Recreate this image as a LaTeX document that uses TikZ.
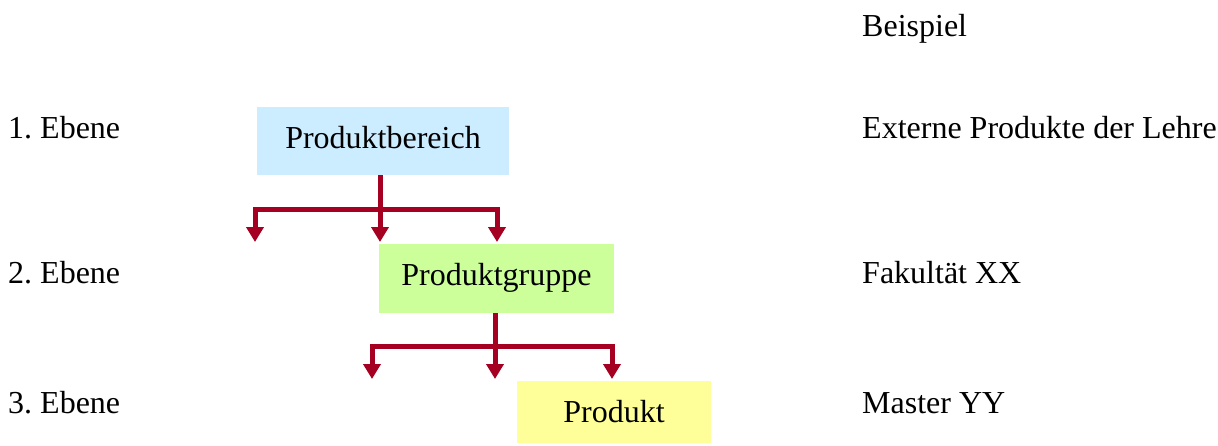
\documentclass[tikz,border=0pt]{standalone}
\usepackage{fontspec}
\setmainfont{Liberation Serif}
\usetikzlibrary{arrows.meta}
\definecolor{linkred}{RGB}{165,0,33}
\definecolor{boxblue}{RGB}{204,236,255}
\definecolor{boxgreen}{RGB}{204,255,153}
\definecolor{boxyellow}{RGB}{255,255,153}
\tikzset{
  levelbox/.style={inner sep=0pt, text height=21pt, text depth=7pt},
  label/.style={anchor=base west, inner sep=0pt},
  link/.style={draw=linkred, line width=5pt, line join=miter},
  linkarrow/.style={link, -{Triangle[width=17pt,length=15pt]}}
}
\frenchspacing
\begin{document}
\begin{tikzpicture}[x=1pt, y=-1pt, font=\fontsize{32}{38}\selectfont]
  \useasboundingbox (0,0) rectangle (1218,445);

  % hierarchy boxes
  \node[levelbox, fill=boxblue, minimum width=252pt, minimum height=68pt] (b1) at (383,141) {Produktbereich};
  \node[levelbox, fill=boxgreen, minimum width=235pt, minimum height=69pt] (b2) at (496.5,278.5) {Produktgruppe};
  \node[levelbox, fill=boxyellow, minimum width=194pt, minimum height=62pt, text depth=1pt] (b3) at (614,412) {Produkt};

  % level captions on the left
  \node[label] (l1) at (8,138) {1. Ebene};
  \node[label] (l2) at (8,283) {2. Ebene};
  \node[label] (l3) at (8,413) {3. Ebene};

  % examples on the right
  \node[label] (bsp) at (862,36) {Beispiel};
  \node[label] (e1) at (862,138) {Externe Produkte der Lehre};
  \node[label] (e2) at (862,283) {Fakultät XX};
  \node[label] (e3) at (862,413) {Master YY};

  % branching from the first level
  \coordinate (j1) at (380,209);
  \coordinate (t1a) at (255,242);
  \coordinate (t1b) at (380,242);
  \coordinate (t1c) at (497,242);
  \draw[link] (b1.south -| j1) -- (j1);
  \draw[linkarrow] (j1) -| (t1a);
  \draw[linkarrow] (j1) -| (t1c);
  \draw[linkarrow] (j1) -- (t1b);

  % branching from the second level
  \coordinate (j2) at (495,346);
  \coordinate (t2a) at (372,379);
  \coordinate (t2b) at (495,379);
  \coordinate (t2c) at (612,379);
  \draw[link] (b2.south -| j2) -- (j2);
  \draw[linkarrow] (j2) -| (t2a);
  \draw[linkarrow] (j2) -| (t2c);
  \draw[linkarrow] (j2) -- (t2b);
\end{tikzpicture}
\end{document}
